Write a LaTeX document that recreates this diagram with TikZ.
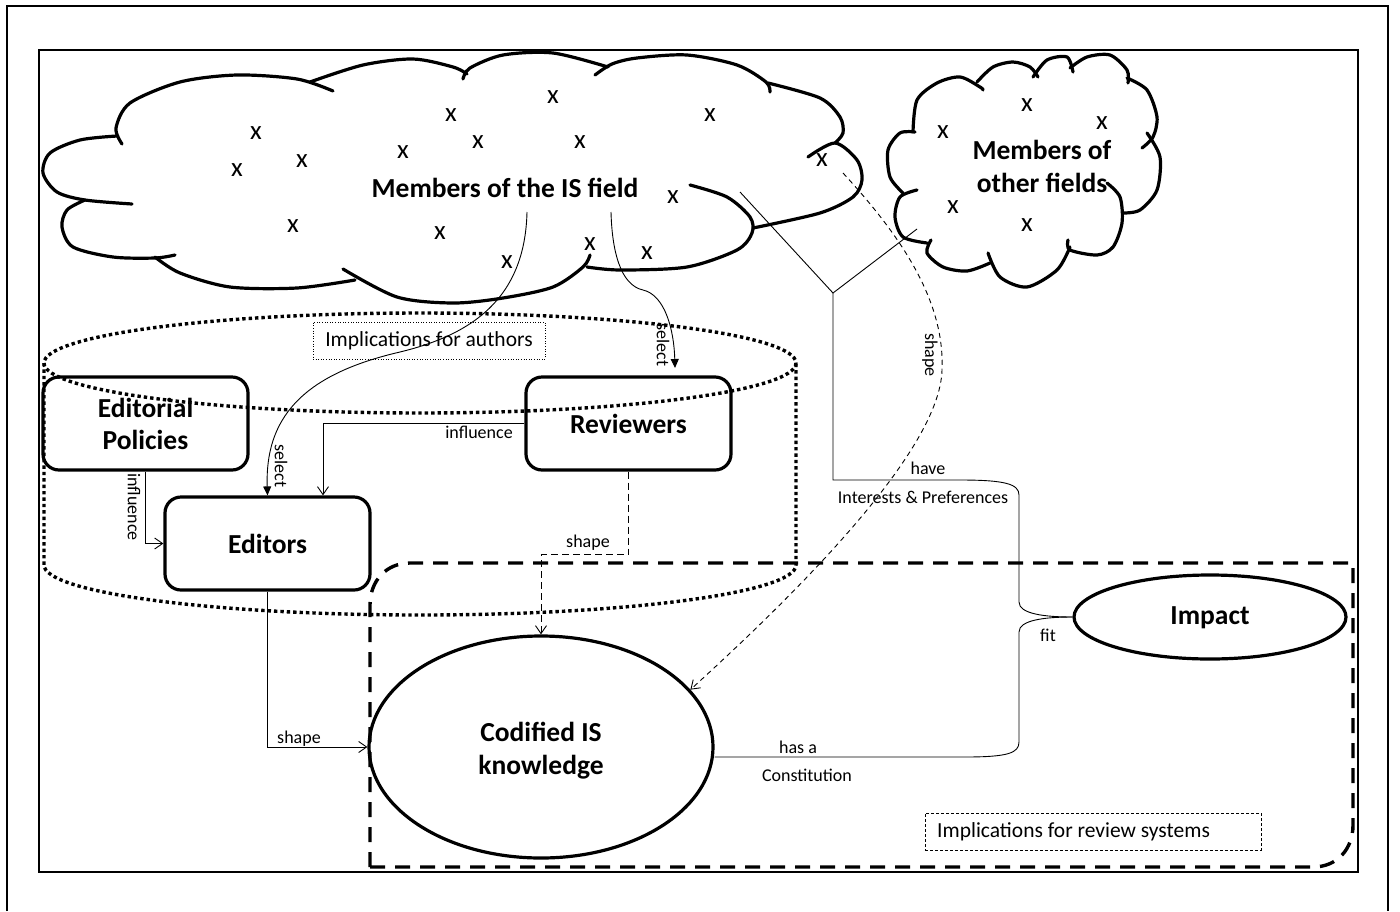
\documentclass[tikz,border=0pt]{standalone}
\usepackage{fontspec}
\setmainfont{Carlito}
\usetikzlibrary{arrows.meta,shapes.geometric,calc}
\begin{document}
\begin{tikzpicture}[x=1pt,y=-1pt,
  cloudline/.style={line width=3.2pt, line cap=round},
  frameline/.style={line width=2.4pt},
  boxnode/.style={draw, line width=3.2pt, rounded corners=16pt, minimum width=205pt, minimum height=93pt, inner sep=0pt, align=center, font=\fontsize{27.5}{32}\selectfont\bfseries},
  ellnode/.style={draw, ellipse, line width=3.2pt, inner sep=0pt, align=center, font=\fontsize{27.5}{34}\selectfont\bfseries},
  bigtext/.style={inner sep=0pt, align=center, font=\fontsize{27.5}{33}\selectfont\bfseries},
  xmark/.style={inner sep=0pt, font=\fontsize{27}{30}\selectfont},
  conn/.style={line width=0.9pt},
  openarrow/.style={-{Straight Barb[length=8pt,width=11pt]}},
  filledarrow/.style={-{Triangle[length=9pt,width=8pt]}},
  dashA/.style={dash pattern=on 7pt off 4pt},
  dashB/.style={dash pattern=on 5pt off 4pt},
  lbl/.style={inner sep=0pt, font=\fontsize{18}{20}\selectfont},
  implbl/.style={inner sep=0pt, font=\fontsize{21.5}{24}\selectfont},
  dotcyl/.style={line width=3.4pt, dash pattern=on 3.4pt off 3pt},
  dashbox/.style={line width=3.4pt, dash pattern=on 15pt off 10pt},
]
\useasboundingbox (0,0) rectangle (1400,911);

% frames
\draw[frameline] (7,911) -- (7,6) -- (1388,6) -- (1388,911);
\draw[frameline] (39,50) rectangle (1358,872);

% big cloud (Members of the IS field)
\draw[cloudline] plot[smooth] coordinates {(122,144) (116,128) (130,103) (180,82) (237,75) (297,79) (333,91)};
\draw[cloudline] plot[smooth] coordinates {(310,82) (363,65) (413,59) (453,67) (467,74)};
\draw[cloudline] plot[smooth] coordinates {(463,79) (470,68) (503,55) (553,53) (608,67)};
\draw[cloudline] plot[smooth] coordinates {(595,75) (612,64) (637,58) (687,55) (737,65) (766,82) (770,92)};
\draw[cloudline] plot[smooth] coordinates {(768,83) (820,98) (840,117) (843,133) (835,143)};
\draw[cloudline] plot[smooth] coordinates {(808,157) (835,143) (857,160) (862,180) (853,197) (820,213) (753,228)};
\draw[cloudline] plot[smooth] coordinates {(690,185) (727,197) (750,217) (752,233) (737,250) (687,267) (620,270) (587,267)};
\draw[cloudline] plot[smooth] coordinates {(590,255) (583,267) (553,287) (503,298) (453,303) (397,297) (343,269)};
\draw[cloudline] plot[smooth] coordinates {(355,280) (297,288) (230,287) (180,273) (155,257)};
\draw[cloudline] plot[smooth] coordinates {(85,200) (67,210) (62,227) (73,247) (113,257) (155,258) (175,255)};
\draw[cloudline] plot[smooth] coordinates {(117,136) (80,140) (50,153) (43,173) (57,192) (85,200) (132,204)};

% small cloud (Members of other fields)
\draw[cloudline] plot[smooth] coordinates {(913,132) (917,100) (937,83) (960,77) (980,87) (983,90)};
\draw[cloudline] plot[smooth] coordinates {(977,82) (993,67) (1013,62) (1030,67) (1038,77)};
\draw[cloudline] plot[smooth] coordinates {(1033,77) (1047,60) (1067,57) (1073,72)};
\draw[cloudline] plot[smooth] coordinates {(1070,68) (1087,57) (1110,55) (1127,70) (1128,83)};
\draw[cloudline] plot[smooth] coordinates {(1127,78) (1147,90) (1157,117) (1153,137) (1142,148)};
\draw[cloudline] plot[smooth] coordinates {(1147,133) (1160,157) (1157,190) (1140,210) (1123,213)};
\draw[cloudline] plot[smooth] coordinates {(1107,183) (1120,197) (1122,223) (1113,247) (1097,255) (1070,250) (1068,240)};
\draw[cloudline] plot[smooth] coordinates {(1070,247) (1057,270) (1027,287) (1000,277) (988,253)};
\draw[cloudline] plot[smooth] coordinates {(990,263) (967,271) (943,267) (927,253) (931,240)};
\draw[cloudline] plot[smooth] coordinates {(927,243) (903,237) (895,217) (900,197) (917,190)};
\draw[cloudline] plot[smooth] coordinates {(903,193) (890,177) (888,150) (900,133) (915,132)};

% cloud texts
\node[bigtext] (isf) at (505,188) {Members of the IS field};
\node[bigtext] (oth) at (1042,166) {Members of\\other fields};
\foreach \p [count=\i] in {(256,133),(237,170),(302,161),(293,226),(403,152),(451,115),(478,142),(553,97),(580,142),(710,115),(822,160),(673,197),(440,233),(507,262),(590,244),(647,253)}
  \node[xmark] (xa\i) at \p {x};
\foreach \p [count=\i] in {(1027,105),(1102,123),(943,132),(953,207),(1027,225)}
  \node[xmark] (xb\i) at \p {x};

% dotted cylinder (implications for authors)
\draw[dotcyl] (420,363) ellipse [x radius=376, y radius=50];
\draw[dotcyl] (44,363) -- (44,565) .. controls (44,592.6) and (212.3,615) .. (420,615) .. controls (627.7,615) and (796,592.6) .. (796,565) -- (796,363);
\node[implbl, draw, line width=0.6pt, dotted, minimum width=232pt, minimum height=37pt] (ia) at (429,340.5) {Implications for authors};

% dashed rounded region (implications for review systems)
\draw[dashbox] (370,867) -- (370,605) .. controls (370,581) and (386,563) .. (410,563) -- (1353,563) -- (1353,825) .. controls (1353,849) and (1337,867) .. (1313,867) -- cycle;
\node[draw, line width=0.6pt, dash pattern=on 3pt off 2pt, minimum width=336pt, minimum height=37pt] (ir) at (1093,831.5) {};
\node[implbl, anchor=west] (irt) at (937,831.5) {Implications for review systems};

% boxes
\node[boxnode] (ep) at (145.5,423.5) {Editorial\\Policies};
\node[boxnode] (ed) at (267.5,543.5) {Editors};
\node[boxnode] (rv) at (628.5,423.5) {Reviewers};
\node[ellnode, minimum width=344pt, minimum height=222pt] (cod) at (541,747) {};
\node[bigtext] (codt) at (541,751) {Codified IS\\knowledge};
\node[ellnode, minimum width=272pt, minimum height=84pt] (imp) at (1210,617) {};
\node[bigtext] (impt) at (1210,618) {Impact};

% connectors
\coordinate (s1) at (527,212);
\coordinate (s2) at (611,212);
\coordinate (s2e) at (675,368);
\coordinate (s3) at (843,173);
\coordinate (y1) at (740,192);
\coordinate (y2) at (917,229);
\coordinate (yj) at (833,293);

\draw[conn, filledarrow] (s1) .. controls (525,300) and (470,335) .. (400,352) .. controls (300,375) and (265,420) .. (ed.north);
\node[lbl, rotate=-90] (lsel1) at (281,466) {select};

\draw[conn, filledarrow] (s2) .. controls (612,250) and (620,285) .. (643,290) .. controls (665,295) and (674,330) .. (s2e);
\node[lbl, rotate=-90] (lsel2) at (663,345) {select};

\draw[conn, openarrow] (rv.west) -| ([xshift=55.5pt]ed.north);
\node[lbl] (linf1) at (479,432) {influence};

\draw[conn, openarrow] (ep.south) |- (ed.west);
\node[lbl, rotate=-90] (linf2) at (134,507) {influence};

\draw[conn, openarrow] (ed.south) |- (cod.west);
\node[lbl] (lsh1) at (299,739) {shape};

\draw[conn, dashA, openarrow] (rv.south) -- ++(0,83) -| (cod.north);
\node[lbl] (lsh2) at (588,543) {shape};

\draw[conn, dashB, openarrow] (s3) .. controls (900,235) and (945,300) .. (942,370) .. controls (940,450) and (800,590) .. (cod.21);
\node[lbl, rotate=-90] (lsh3) at (930,355) {shape};

\draw[conn] (y1) -- (yj) -- (y2);
\draw[conn] (yj) -- (833,480) -- (960,480) .. controls (1005,480) and (1019,484) .. (1019,495) -- (1019,602) .. controls (1019,614) and (1045,617) .. (imp.west);
\node[lbl] (lhave) at (928,468) {have};
\node[lbl] (lint) at (923,497) {Interests \& Preferences};

\draw[conn] ([yshift=-10pt]cod.east) -- (965,757) .. controls (1008,757) and (1019,753) .. (1019,742) -- (1019,632) .. controls (1019,620) and (1045,617) .. (imp.west);
\node[lbl] (lfit) at (1048,635) {fit};
\node[lbl] (lhas) at (798,747) {has a};
\node[lbl] (lcon) at (807,775) {Constitution};

\end{tikzpicture}
\end{document}
